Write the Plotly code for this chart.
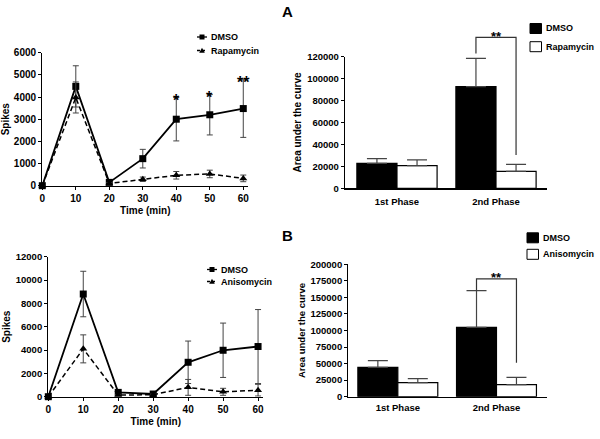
import plotly.graph_objects as go

# ---------------- data ----------------
time_min = [0, 10, 20, 30, 40, 50, 60]

a_dmso = [0, 4480, 150, 1220, 3000, 3200, 3480]
a_dmso_err = [0, 930, 60, 420, 980, 910, 1300]
a_rapa = [0, 3980, 100, 290, 470, 530, 330]
a_rapa_err = [0, 700, 40, 100, 170, 170, 150]
a_stars = ["", "", "", "", "*", "*", "**"]

b_dmso = [0, 8800, 370, 230, 2950, 3980, 4300]
b_dmso_err = [0, 1950, 100, 80, 1820, 2330, 3170]
b_aniso = [0, 4100, 140, 170, 800, 420, 560]
b_aniso_err = [0, 1200, 60, 50, 680, 300, 500]

phases = ["1st Phase", "2nd Phase"]
auc_a_dmso = [22800, 92700]
auc_a_dmso_err = [4250, 25800]
auc_a_rapa = [20700, 15500]
auc_a_rapa_err = [5150, 6400]
auc_b_dmso = [44400, 104800]
auc_b_dmso_err = [10000, 55400]
auc_b_aniso = [21200, 18100]
auc_b_aniso_err = [6000, 11100]

# significance brackets (data units): [top, left-leg end, right-leg end]
sig_a = [137700, 123000, 30400]
sig_b = [177900, 160300, 51400]
sig_label = "**"

W, H = 600, 439
FONT = "Liberation Sans, Arial, sans-serif"


def px(x):
    return x / W


def py(y):
    return 1 - y / H


# panel geometry (pixels)
TL = dict(x=(42.3, 248.3), y=(185.7, 52.7), xr=[0, 61.5], yr=[0, 6000])
BL = dict(x=(48.3, 263.3), y=(396.7, 256.7), xr=[0, 61.5], yr=[0, 12000])
TR = dict(x=(345.0, 546.7), y=(188.3, 56.7), xr=[-0.525, 1.512], yr=[0, 120000])
BR = dict(x=(348.3, 546.7), y=(396.7, 264.3), xr=[-0.502, 1.509], yr=[0, 200000])
BARGAP = 0.19

fig = go.Figure()

err_col = "#444"


def line_pair(xa, ya, d1, e1, d2, e2, n1, n2):
    fig.add_trace(go.Scatter(
        x=time_min, y=d1, name=n1, xaxis=xa, yaxis=ya, mode="lines+markers",
        line=dict(color="black", width=1.8),
        marker=dict(symbol="square", size=7, color="black"),
        error_y=dict(type="data", array=e1, color=err_col, thickness=1, width=3),
        cliponaxis=False, showlegend=False))
    fig.add_trace(go.Scatter(
        x=time_min, y=d2, name=n2, xaxis=xa, yaxis=ya, mode="lines+markers",
        line=dict(color="black", width=1.5, dash="5px,3px"),
        marker=dict(symbol="triangle-up", size=7, color="black"),
        error_y=dict(type="data", array=e2, color=err_col, thickness=1, width=3),
        cliponaxis=False, showlegend=False))


def bar_pair(xa, ya, d1, e1, d2, e2, n1, n2):
    zeros = [0] * len(d1)
    fig.add_trace(go.Bar(
        x=phases, y=d1, name=n1, xaxis=xa, yaxis=ya,
        marker=dict(color="black", line=dict(color="black", width=1.2)),
        error_y=dict(type="data", symmetric=False, array=e1, arrayminus=zeros,
                     color=err_col, thickness=1.2, width=10),
        showlegend=False))
    fig.add_trace(go.Bar(
        x=phases, y=d2, name=n2, xaxis=xa, yaxis=ya,
        marker=dict(color="white", line=dict(color="black", width=1.2)),
        error_y=dict(type="data", symmetric=False, array=e2, arrayminus=zeros,
                     color=err_col, thickness=1.2, width=10),
        showlegend=False))


line_pair("x", "y", a_dmso, a_dmso_err, a_rapa, a_rapa_err, "DMSO", "Rapamycin")
bar_pair("x2", "y2", auc_a_dmso, auc_a_dmso_err, auc_a_rapa, auc_a_rapa_err, "DMSO", "Rapamycin")
line_pair("x3", "y3", b_dmso, b_dmso_err, b_aniso, b_aniso_err, "DMSO", "Anisomycin")
bar_pair("x4", "y4", auc_b_dmso, auc_b_dmso_err, auc_b_aniso, auc_b_aniso_err, "DMSO", "Anisomycin")

tick_font = dict(family=FONT, size=10, color="black", weight="bold")
title_font = dict(family=FONT, size=10, color="black", weight="bold")


def axis_common():
    return dict(showline=True, linecolor="black", linewidth=1.2, ticks="outside",
                ticklen=3, tickwidth=1, tickcolor="black", showgrid=False,
                zeroline=False, tickfont=tick_font, fixedrange=True)


def xdom(p):
    return [px(p["x"][0]), px(p["x"][1])]


def ydom(p):
    return [py(p["y"][0]), py(p["y"][1])]


layout = dict(
    width=W, height=H, margin=dict(l=0, r=0, t=0, b=0, autoexpand=False),
    paper_bgcolor="white", plot_bgcolor="white",
    barmode="group", bargap=BARGAP, bargroupgap=0,
    font=dict(family=FONT, color="black"),
)

# top-left
layout["xaxis"] = dict(axis_common(), domain=xdom(TL), range=TL["xr"], anchor="y",
                       tickvals=time_min, title=dict(text="Time (min)", font=title_font, standoff=4))
layout["yaxis"] = dict(axis_common(), domain=ydom(TL), range=TL["yr"], anchor="x",
                       dtick=1000, tickformat="d", title=dict(text="Spikes", font=title_font, standoff=3))
# top-right
layout["xaxis2"] = dict(axis_common(), domain=xdom(TR), range=TR["xr"], anchor="y2",
                        ticks="", ticklabelstandoff=4, tickfont=dict(tick_font, size=9.5))
layout["yaxis2"] = dict(axis_common(), domain=ydom(TR), range=TR["yr"], anchor="x2",
                        dtick=20000, tickformat="d", tickfont=dict(tick_font, size=9.5),
                        title=dict(text="Area under the curve", font=title_font, standoff=3))
# bottom-left
layout["xaxis3"] = dict(axis_common(), domain=xdom(BL), range=BL["xr"], anchor="y3",
                        tickvals=time_min, title=dict(text="Time (min)", font=title_font, standoff=4))
layout["yaxis3"] = dict(axis_common(), domain=ydom(BL), range=BL["yr"], anchor="x3",
                        dtick=2000, tickformat="d", tickfont=dict(tick_font, size=9.5),
                        title=dict(text="Spikes", font=title_font, standoff=3))
# bottom-right
layout["xaxis4"] = dict(axis_common(), domain=xdom(BR), range=BR["xr"], anchor="y4",
                        ticks="", ticklabelstandoff=2, tickfont=dict(tick_font, size=9.5))
layout["yaxis4"] = dict(axis_common(), domain=ydom(BR), range=BR["yr"], anchor="x4",
                        dtick=25000, tickformat="d", tickfont=dict(tick_font, size=9.5),
                        title=dict(text="Area under the curve", font=dict(title_font, size=9.5), standoff=3))

fig.update_layout(**layout)

shapes = []
annotations = []


def data_to_paper(p, xv, yv):
    x0, x1 = p["x"]
    y0, y1 = p["y"]
    xx = x0 + (xv - p["xr"][0]) / (p["xr"][1] - p["xr"][0]) * (x1 - x0)
    yy = y0 + (yv - p["yr"][0]) / (p["yr"][1] - p["yr"][0]) * (y1 - y0)
    return px(xx), py(yy)


# stars above time points (panel A)
for t, v, e, s in zip(time_min, a_dmso, a_dmso_err, a_stars):
    if s:
        annotations.append(dict(x=t, y=v + e, xref="x", yref="y", text=s, showarrow=False,
                                xanchor="center", yanchor="middle", yshift=-3,
                                font=dict(family=FONT, size=16, color="black", weight="bold")))

# significance brackets
off = (1 - BARGAP) / 4
for p, sig in ((TR, sig_a), (BR, sig_b)):
    xl, ytop = data_to_paper(p, 1 - off, sig[0])
    xr_, _ = data_to_paper(p, 1 + off, sig[0])
    _, yl = data_to_paper(p, 1 - off, sig[1])
    _, yr_ = data_to_paper(p, 1 + off, sig[2])
    shapes.append(dict(type="path", xref="paper", yref="paper",
                       path=f"M{xl},{yl} L{xl},{ytop} L{xr_},{ytop} L{xr_},{yr_}",
                       line=dict(color="#333", width=1.2)))
    annotations.append(dict(x=(xl + xr_) / 2, y=ytop, xref="paper", yref="paper", text=sig_label,
                            showarrow=False, xanchor="center", yanchor="middle", yshift=1,
                            font=dict(family=FONT, size=13, color="black", weight="bold")))

# panel letters
for letter, xx, yy in (("A", 287, 12), ("B", 287, 235)):
    annotations.append(dict(x=px(xx), y=py(yy), xref="paper", yref="paper", text=letter,
                            showarrow=False, xanchor="center", yanchor="middle",
                            font=dict(family=FONT, size=15, color="black", weight="bold")))

leg_font = dict(family=FONT, size=9, color="black", weight="bold")


# line legends (panels on the left)
def line_legend(x0, ys, names):
    for i, (yy, name) in enumerate(zip(ys, names)):
        shapes.append(dict(type="line", xref="paper", yref="paper",
                           x0=px(x0), x1=px(x0 + 10), y0=py(yy), y1=py(yy),
                           line=dict(color="black", width=1.3, dash="solid" if i == 0 else "3px,2px")))
        cx = x0 + 5
        if i == 0:
            shapes.append(dict(type="rect", xref="paper", yref="paper",
                               x0=px(cx - 2.5), x1=px(cx + 2.5), y0=py(yy - 2.5), y1=py(yy + 2.5),
                               fillcolor="black", line=dict(width=0)))
        else:
            shapes.append(dict(type="path", xref="paper", yref="paper",
                               path=f"M{px(cx - 2.8)},{py(yy + 2.2)} L{px(cx + 2.8)},{py(yy + 2.2)} L{px(cx)},{py(yy - 2.8)} Z",
                               fillcolor="black", line=dict(width=0)))
        annotations.append(dict(x=px(x0 + 12), y=py(yy), xref="paper", yref="paper", text=name,
                                showarrow=False, xanchor="left", yanchor="middle", font=leg_font))


line_legend(197, (37, 50.5), ("DMSO", "Rapamycin"))
line_legend(207, (269.5, 281.5), ("DMSO", "Anisomycin"))


# bar legends (panels on the right)
def bar_legend(x0, ys, names):
    for i, (yy, name) in enumerate(zip(ys, names)):
        shapes.append(dict(type="rect", xref="paper", yref="paper",
                           x0=px(x0), x1=px(x0 + 11.5), y0=py(yy - 5), y1=py(yy + 5),
                           fillcolor="black" if i == 0 else "white",
                           line=dict(color="black", width=1)))
        annotations.append(dict(x=px(x0 + 14), y=py(yy), xref="paper", yref="paper", text=name,
                                showarrow=False, xanchor="left", yanchor="middle", font=leg_font))


bar_legend(530, (28.5, 46.7), ("DMSO", "Rapamycin"))
bar_legend(527, (237.8, 254.3), ("DMSO", "Anisomycin"))

fig.update_layout(shapes=shapes, annotations=annotations)
fig.write_html(
    "out.html",
    config={"displayModeBar": False, "staticPlot": True},
    post_script="document.body.style.margin='0';document.body.style.overflow='hidden';",
)
